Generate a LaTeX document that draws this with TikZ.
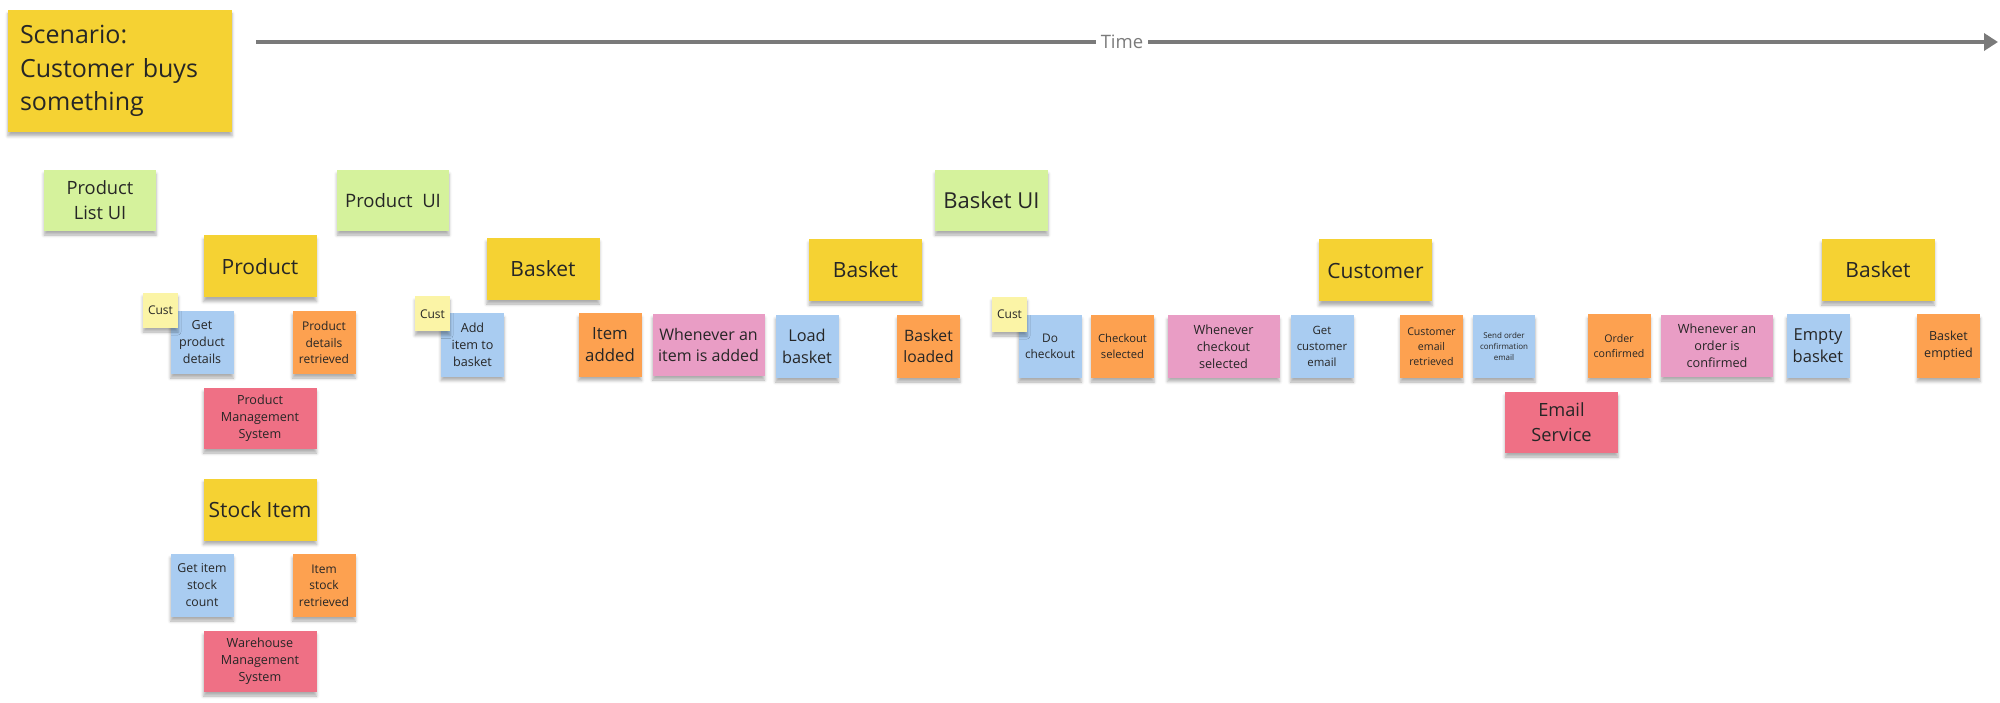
\documentclass[tikz,border=0pt]{standalone}
\usepackage{fontspec}
\setmainfont{Open Sans}
\usetikzlibrary{arrows.meta,positioning,shadows.blur}
\definecolor{aggyel}{HTML}{F5D233}
\definecolor{uigrn}{HTML}{D5F29C}
\definecolor{cmdblu}{HTML}{A9CCF1}
\definecolor{evtorg}{HTML}{FDA150}
\definecolor{polpnk}{HTML}{E99DC5}
\definecolor{sysred}{HTML}{EF7085}
\definecolor{actyel}{HTML}{FBF4A6}
\definecolor{inkc}{HTML}{262626}
\definecolor{timeg}{HTML}{7A7A7A}
\tikzset{
  note/.style  ={draw=none,inner sep=0pt,align=center,text=inkc,
                 blur shadow={shadow xshift=0pt,shadow yshift=-4pt,shadow blur radius=3pt,shadow opacity=32}},
  fs/.style 2 args={font=\fontsize{#1}{#2}\selectfont},
  agg/.style   ={note,fill=aggyel,minimum width=113pt,minimum height=62pt,fs={21}{27}},
  ui/.style    ={note,fill=uigrn,minimum width=112pt,minimum height=61pt},
  cmd/.style   ={note,fill=cmdblu,minimum width=63pt,minimum height=63pt},
  evt/.style   ={note,fill=evtorg,minimum width=63pt,minimum height=63pt},
  pol/.style   ={note,fill=polpnk,minimum width=112pt,minimum height=62pt},
  sys/.style   ={note,fill=sysred,minimum width=113pt,minimum height=61pt},
  actor/.style ={note,fill=actyel,minimum width=35pt,minimum height=35pt,fs={12}{15}},
  timeln/.style={draw=timeg,line width=3.5pt},
}

\begin{document}
\begin{tikzpicture}[x=1pt,y=-1pt]
  \useasboundingbox (0,0) rectangle (2000,703);
  \node[agg,minimum width=224pt,minimum height=122pt,text width=200pt,align=left,fs={25}{33.5}]
    (scen) at (120,71) {Scenario:\\Customer buys\\something};

  % time line
  \coordinate (tstart) at (256,42);
  \coordinate (tend) at (1998,42);
  \node[inner xsep=5pt,text=timeg,fs={18.5}{22}] (time) at (1122,42) {Time};
  \draw[timeln] (tstart) -- (time);
  \draw[timeln,-{Triangle[length=14pt,width=17pt]}] (time) -- (tend);

  % UIs
  \node[ui,fs={18.3}{25}] (plui) at (100,200.5) {Product\\List UI};
  \node[ui,fs={18.5}{25}] (pui) at (393,200.5) {Product\ \ UI};
  \node[ui,minimum width=113pt,fs={22}{28}] (bui) at (991.5,200.5) {Basket UI};

  % product / stock item
  \node[agg] (prod) at (260,266.5) {Product};
  \node[cmd,fs={12.5}{17}] (gpd) at (202,342.5) {Get\\product\\details};
  \node[evt,fs={12}{16.5}] (pdr) at (324,342.5) {Product\\details\\retrieved};
  \node[sys,fs={12.6}{17}] (pms) at (260,418.5) {Product\\Management\\System};
  \node[actor] (cust1) at (160.5,310.5) {Cust};
  \node[agg] (stock) at (260,509.5) {Stock Item};
  \node[cmd,fs={12.3}{17}] (gisc) at (202,585.5) {Get item\\stock\\count};
  \node[evt,fs={12}{16.5}] (isr) at (324,585.5) {Item\\stock\\retrieved};
  \node[sys,fs={12.6}{17}] (wms) at (260,661.5) {Warehouse\\Management\\System};

  % add to basket
  \node[agg] (bsk1) at (543,269) {Basket};
  \node[cmd,fs={12.6}{17}] (ait) at (472.5,345) {Add\\item to\\basket};
  \node[actor] (cust2) at (432.5,314) {Cust};
  \node[evt,fs={16.8}{22}] (iadd) at (610,345) {Item\\added};
  \node[pol,fs={16}{21}] (wia) at (708.5,345) {Whenever an\\item is added};
  \node[cmd,fs={16.3}{22}] (lb) at (807,346.5) {Load\\basket};
  \node[agg] (bsk2) at (865.5,270) {Basket};
  \node[evt,fs={15.7}{21}] (bl) at (928.5,346.5) {Basket\\loaded};

  % checkout
  \node[cmd,fs={11.9}{16.5}] (dc) at (1050,346.5) {Do\\checkout};
  \node[actor] (cust3) at (1009.5,314.5) {Cust};
  \node[evt,fs={11.2}{16}] (cs) at (1122.5,346.5) {Checkout\\selected};
  \node[pol,fs={12.7}{17}] (wcs) at (1223.5,346.5) {Whenever\\checkout\\selected};
  \node[agg] (cstm) at (1375.5,270.5) {Customer};
  \node[cmd,fs={11.4}{16}] (gce) at (1322,346.5) {Get\\customer\\email};
  \node[evt,fs={10.6}{15}] (cer) at (1431.5,346.5) {Customer\\email\\retrieved};
  \node[cmd,minimum width=62pt,fs={8}{11}] (soce) at (1504,346.5) {Send order\\confirmation\\email};
  \node[sys,fs={18.2}{25}] (es) at (1561.5,422.5) {Email\\Service};
  \node[evt,fs={10.6}{14.5}] (oc) at (1619,346) {Order\\confirmed};
  \node[pol,fs={12.7}{17}] (woc) at (1717,346) {Whenever an\\order is\\confirmed};

  % empty basket
  \node[agg] (bsk3) at (1878,270) {Basket};
  \node[cmd,fs={16.5}{22}] (eb) at (1818,346) {Empty\\basket};
  \node[evt,fs={12.5}{17}] (be) at (1948.5,346) {Basket\\emptied};
\end{tikzpicture}
\end{document}
